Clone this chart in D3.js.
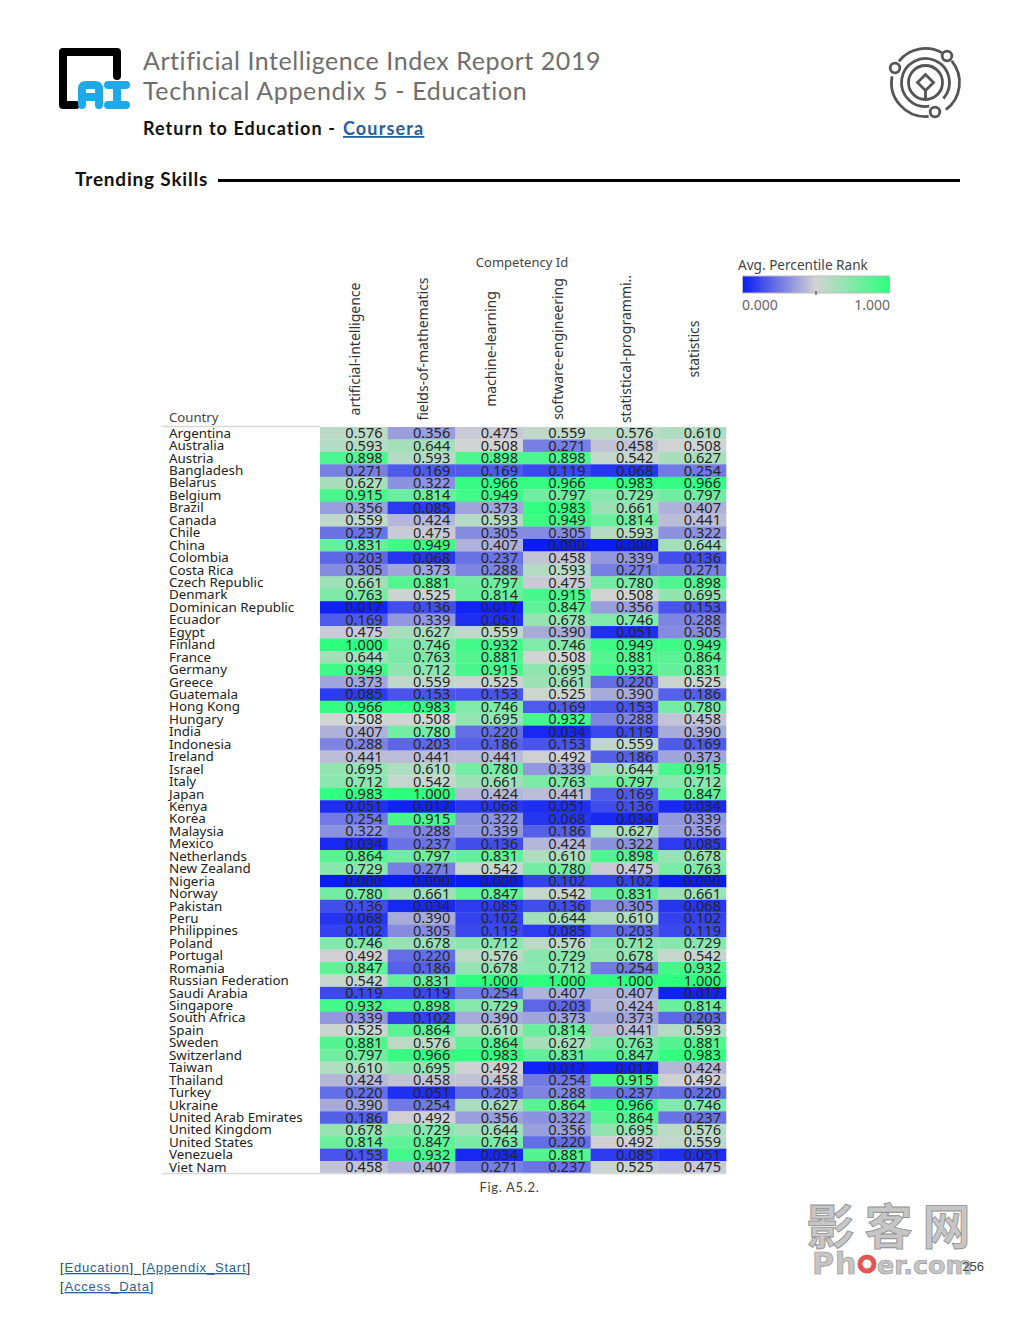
<!DOCTYPE html>
<html><head><meta charset="utf-8">
<script src="https://cdn.jsdelivr.net/npm/d3@7/dist/d3.min.js"></script>
<style>html,body{margin:0;padding:0;background:#fff}svg{display:block}</style>
</head><body><svg id="c" width="1020" height="1320"></svg>
<script>
const countries=["Argentina","Australia","Austria","Bangladesh","Belarus","Belgium","Brazil","Canada","Chile","China","Colombia","Costa Rica","Czech Republic","Denmark","Dominican Republic","Ecuador","Egypt","Finland","France","Germany","Greece","Guatemala","Hong Kong","Hungary","India","Indonesia","Ireland","Israel","Italy","Japan","Kenya","Korea","Malaysia","Mexico","Netherlands","New Zealand","Nigeria","Norway","Pakistan","Peru","Philippines","Poland","Portugal","Romania","Russian Federation","Saudi Arabia","Singapore","South Africa","Spain","Sweden","Switzerland","Taiwan","Thailand","Turkey","Ukraine","United Arab Emirates","United Kingdom","United States","Venezuela","Viet Nam"];
const competencies=["artificial-intelligence","fields-of-mathematics","machine-learning","software-engineering","statistical-programmi..","statistics"];
const artificialIntelligence=[.576,.593,.898,.271,.627,.915,.356,.559,.237,.831,.203,.305,.661,.763,.017,.169,.475,1,.644,.949,.373,.085,.966,.508,.407,.288,.441,.695,.712,.983,.051,.254,.322,.034,.864,.729,0,.780,.136,.068,.102,.746,.492,.847,.542,.119,.932,.339,.525,.881,.797,.610,.424,.220,.390,.186,.678,.814,.153,.458];
const fieldsOfMathematics=[.356,.644,.593,.169,.322,.814,.085,.424,.475,.949,.068,.373,.881,.525,.136,.339,.627,.746,.763,.712,.559,.153,.983,.508,.780,.203,.441,.610,.542,1,.017,.915,.288,.237,.797,.271,0,.661,.034,.390,.305,.678,.220,.186,.831,.119,.898,.102,.864,.576,.966,.695,.458,.051,.254,.492,.729,.847,.932,.407];
const machineLearning=[.475,.508,.898,.169,.966,.949,.373,.593,.305,.407,.237,.288,.797,.814,.017,.051,.559,.932,.881,.915,.525,.153,.746,.695,.220,.186,.441,.780,.661,.424,.068,.322,.339,.136,.831,.542,0,.847,.085,.102,.119,.712,.576,.678,1,.254,.729,.390,.610,.864,.983,.492,.458,.203,.627,.356,.644,.763,.034,.271];
const softwareEngineering=[.559,.271,.898,.119,.966,.797,.983,.949,.305,0,.458,.593,.475,.915,.847,.678,.390,.746,.508,.695,.661,.525,.169,.932,.034,.153,.492,.339,.763,.441,.051,.068,.186,.424,.610,.780,.102,.542,.136,.644,.085,.576,.729,.712,1,.407,.203,.373,.814,.627,.831,.017,.254,.288,.864,.322,.356,.220,.881,.237];
const statisticalProgramming=[.576,.458,.542,.068,.983,.729,.661,.814,.593,0,.339,.271,.780,.508,.356,.746,.051,.949,.881,.932,.220,.390,.153,.288,.119,.559,.186,.644,.797,.169,.136,.034,.627,.322,.898,.475,.102,.831,.305,.610,.203,.712,.678,.254,1,.407,.424,.373,.441,.763,.847,.017,.915,.237,.966,.864,.695,.492,.085,.525];
const statistics=[.610,.508,.627,.254,.966,.797,.407,.441,.322,.644,.136,.271,.898,.695,.153,.288,.305,.949,.864,.831,.525,.186,.780,.458,.390,.169,.373,.915,.712,.847,.034,.339,.356,.085,.678,.763,0,.661,.068,.102,.119,.729,.542,.932,1,.017,.814,.203,.593,.881,.983,.424,.492,.220,.746,.237,.576,.559,.051,.475];
const seriesList=[artificialIntelligence,fieldsOfMathematics,machineLearning,softwareEngineering,statisticalProgramming,statistics];

const svg=d3.select("#c");
const TF='"Noto Sans","Open Sans",sans-serif', HF='Lato,"Open Sans",sans-serif';
const txt=(x,y,s,size,fill,fam,extra={})=>{const t=svg.append("text").attr("x",x).attr("y",y).attr("font-size",size).attr("fill",fill).attr("font-family",fam).text(s);Object.entries(extra).forEach(([k,v])=>t.attr(k,v));return t;};

// Header
const logo=svg.append("g").attr("fill","none").attr("stroke-linejoin","round").attr("stroke-linecap","round");
logo.append("path").attr("d","M76 105H63V52H117V76").attr("stroke","#000").attr("stroke-width",8);
logo.append("path").attr("d","M82 105V89Q82 85 86 85H95Q99 85 99 89V105M82 97H99").attr("stroke","#1fa9e8").attr("stroke-width",8);
logo.append("path").attr("d","M108 85H126M117 85V105M108 105H126").attr("stroke","#1fa9e8").attr("stroke-width",8);
txt(143,70,"Artificial Intelligence Index Report 2019",25,"#6e6e6e",HF,{"letter-spacing":.55});
txt(143,100,"Technical Appendix 5 - Education",25,"#6e6e6e",HF,{"letter-spacing":.66});
txt(143,135,"Return to Education -",18,"#111",HF,{"font-weight":700,"letter-spacing":1.05});
txt(343,135,"Coursera",18,"#2a6099",HF,{"font-weight":700,"letter-spacing":1.15,"text-decoration":"underline"});
txt(75,186,"Trending Skills",19,"#111",HF,{"font-weight":700,"letter-spacing":.8});
svg.append("line").attr("x1",218).attr("x2",960).attr("y1",180.5).attr("y2",180.5).attr("stroke","#000").attr("stroke-width",3);

const icon=svg.append("g").attr("fill","none").attr("stroke","#555").attr("stroke-width",2.8);
const cx=925.5,cy=82.5;
const arc=d3.arc();
[[34,-.9,.5],[34,.88,2.5],[34,3.05,4.9],[24,-3.3,2.3],[17,0,6.29]].forEach(([r,a,b])=>{
 icon.append("path").attr("transform",`translate(${cx},${cy})`).attr("d",arc({innerRadius:r,outerRadius:r,startAngle:a,endAngle:b}));});
icon.append("path").attr("d",`M${cx} ${cy-8}L${cx+8} ${cy}L${cx} ${cy+8}L${cx-8} ${cy}Z M${cx} ${cy+8}V${cy+17}`);
[[947,56],[895,68],[935,112]].forEach(([x,y])=>icon.append("circle").attr("cx",x).attr("cy",y).attr("r",4.8).attr("fill","#fff"));

// Chart
const x=d3.scaleBand().domain(competencies).range([320,726]).padding(0);
const y=d3.scaleBand().domain(countries).range([427,1173.5]).padding(0);
const color=d3.scaleLinear().domain([0,.5,1]).range(["#0a1cf5","#d3d3d3","#2cff7d"]);
const cells=competencies.flatMap((c,i)=>countries.map((n,j)=>({c,n,v:seriesList[i][j]})));
const g=svg.append("g");
g.selectAll("rect.cell").data(cells).join("rect").attr("class","cell")
 .attr("x",d=>x(d.c)).attr("y",d=>y(d.n)).attr("width",x.bandwidth()+.3).attr("height",y.bandwidth()+.3)
 .attr("fill",d=>color(d.v));
g.selectAll("text.val").data(cells).join("text").attr("class","val")
 .attr("x",d=>x(d.c)+x.bandwidth()-5).attr("y",d=>y(d.n)+y.bandwidth()/2+5)
 .attr("text-anchor","end").attr("font-family",TF).attr("font-size",14.6).attr("fill","#262626")
 .text(d=>d3.format(".3f")(d.v));

const ay=g.append("g").attr("transform","translate(169,0)").call(d3.axisLeft(y).tickSize(0));
ay.select(".domain").remove();
ay.selectAll("text").attr("x",0).attr("dy",null).attr("y",4.5).attr("text-anchor","start")
 .attr("font-family",TF).attr("font-size",13.4).attr("fill","#222");

const ax=g.append("g").attr("transform","translate(0,349)").call(d3.axisTop(x).tickSize(0));
ax.select(".domain").remove();
ax.selectAll("text").attr("transform","rotate(-90)").attr("x",0).attr("y",5.5).attr("dy",null).attr("text-anchor","middle")
 .attr("font-family",TF).attr("font-size",14).attr("fill","#333");
ax.selectAll(".tick").attr("transform",d=>`translate(${x(d)+x.bandwidth()/2+1},0)`);

svg.append("line").attr("x1",162).attr("x2",320).attr("y1",426.5).attr("y2",426.5).attr("stroke","#d8d8d8").attr("stroke-width",1.5);
svg.append("line").attr("x1",162).attr("x2",726).attr("y1",1173.5).attr("y2",1173.5).attr("stroke","#d8d8d8").attr("stroke-width",1.5);
txt(169,422,"Country",13.2,"#444",TF);
txt(522,267,"Competency Id",13,"#444",TF,{"text-anchor":"middle"});
txt(509.5,1192,"Fig. A5.2.",13,"#444",HF,{"text-anchor":"middle","letter-spacing":.7});

// Legend
const defs=svg.append("defs");
const lg=defs.append("linearGradient").attr("id","lg");
d3.range(0,1.01,.25).forEach(t=>lg.append("stop").attr("offset",t).attr("stop-color",color(t)));
svg.append("rect").attr("x",742.5).attr("y",276).attr("width",147).attr("height",17).attr("fill","url(#lg)").attr("stroke","#bbb");
svg.append("line").attr("x1",816).attr("x2",816).attr("y1",291).attr("y2",295).attr("stroke","#222");
txt(738,270,"Avg. Percentile Rank",13.6,"#444",TF);
const lx=d3.scaleLinear().domain([0,1]).range([742,890]);
txt(lx(0),310,d3.format(".3f")(0),14,"#666",TF);
txt(lx(1),310,d3.format(".3f")(1),14,"#666",TF,{"text-anchor":"end"});

// Footer
const LF='"Liberation Sans",sans-serif';
const foot=(xx,yy,parts)=>{const t=svg.append("text").attr("x",xx).attr("y",yy).attr("font-family",LF).attr("font-size",13).attr("letter-spacing",.8).attr("fill","#333");
 parts.forEach(([s,l])=>{const sp=t.append("tspan").text(s);if(l)sp.attr("fill","#2a6099").attr("text-decoration","underline");});};
foot(60,1272,[["[",0],["Education",1],["]_[",0],["Appendix_Start",1],["]",0]]);
foot(60,1291,[["[",0],["Access_Data",1],["]",0]]);

// Page stamp
txt(893.5,1244,"影客网",48,"#c6c6c6",'"Noto Sans CJK SC",sans-serif',{"text-anchor":"middle","font-weight":700,"letter-spacing":10,"stroke":"#8f8f8f","stroke-width":.8});
txt(812,1274,"Ph",30,"#c6c6c6",'"DejaVu Sans",sans-serif',{"font-weight":700,"stroke":"#8f8f8f","stroke-width":.6,"letter-spacing":1});
svg.append("circle").attr("cx",867).attr("cy",1264).attr("r",7).attr("fill","none").attr("stroke","#e25555").attr("stroke-width",5);
txt(877,1274,"er.com",25.5,"#c6c6c6",'"DejaVu Sans",sans-serif',{"font-weight":700,"stroke":"#8f8f8f","stroke-width":.6});
txt(984,1271,"256",13,"#444",LF,{"text-anchor":"end"});
</script></body></html>
